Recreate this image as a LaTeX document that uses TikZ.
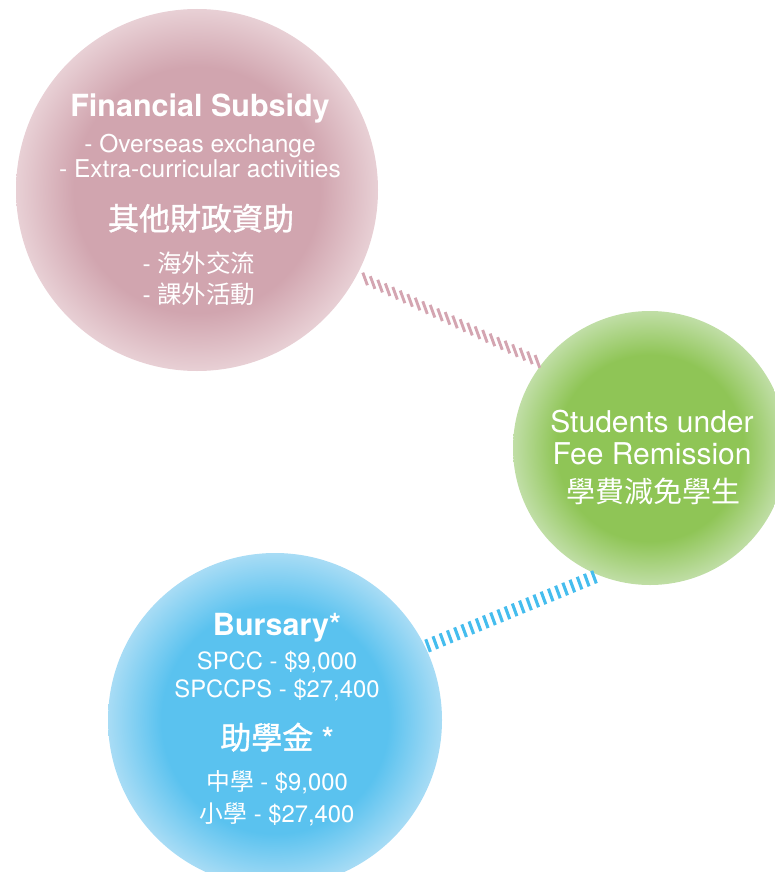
\documentclass[tikz,border=0pt]{standalone}
\usepackage{fontspec}
\setmainfont{TeX Gyre Heros}
\newfontfamily\cjk{Noto Sans CJK TC}
\newfontfamily\cjkm[FakeBold=1.2]{Noto Sans CJK TC}
\usetikzlibrary{calc}
\definecolor{pinkc}{HTML}{D1A5AF}
\definecolor{pinke}{HTML}{E8D0D5}
\definecolor{greenc}{HTML}{8FC556}
\definecolor{greene}{HTML}{C0DEA6}
\definecolor{bluec}{HTML}{5AC2EF}
\definecolor{bluee}{HTML}{A8DCF5}
\definecolor{pinkline}{HTML}{D4A5B1}
\definecolor{blueline}{HTML}{45BDEE}
\pgfdeclareradialshading{pinkshade}{\pgfpoint{0bp}{0bp}}{color(0bp)=(pinkc); color(17bp)=(pinkc); color(25bp)=(pinke); color(50bp)=(pinke)}
\pgfdeclareradialshading{greenshade}{\pgfpoint{0bp}{0bp}}{color(0bp)=(greenc); color(17bp)=(greenc); color(25bp)=(greene); color(50bp)=(greene)}
\pgfdeclareradialshading{blueshade}{\pgfpoint{0bp}{0bp}}{color(0bp)=(bluec); color(17bp)=(bluec); color(25bp)=(bluee); color(50bp)=(bluee)}
\newcommand\titlef{\fontsize{30.5}{36}\selectfont\bfseries}
\newcommand\cjktitlef{\fontsize{31}{36}\selectfont\mdseries\cjkm}
\newcommand\pbodyf{\fontsize{24.5}{29}\selectfont}
\newcommand\bbodyf{\fontsize{23.8}{28}\selectfont}
\newcommand\greenf{\fontsize{30}{35}\selectfont}
\begin{document}
\begin{tikzpicture}[x=1pt,y=-1pt,
  bub/.style={circle, inner sep=0pt, draw=none, shade},
  txt/.style={text=white, inner sep=0pt, anchor=base},
  pinktick/.style={draw=pinkline, line width=2.9pt},
  bluetick/.style={draw=blueline, line width=3.1pt}]
\useasboundingbox (0,0) rectangle (775,872);
% circles
\node[bub, minimum size=362pt, shading=pinkshade] (pink) at (197,190) {};
\node[bub, minimum size=274pt, shading=greenshade] (green) at (650,448) {};
\node[bub, minimum size=334pt, shading=blueshade] (blue) at (275,720) {};
% connectors
\coordinate (pa) at ($(pink.-28)!9pt!(green.142)$);
\coordinate (pb) at ($(green.142)!5pt!(pink.-28)$);
\foreach \i in {0,...,23}
  \draw[pinktick] ($(pa)!\i/23!(pb)$) ++(-2.3,-6.3) -- ++(4.6,12.6);
\coordinate (ba) at ($(blue.26)!3pt!(green.248)$);
\coordinate (bb) at ($(green.248)!5pt!(blue.26)$);
\foreach \i in {0,...,23}
  \draw[bluetick] ($(ba)!\i/23!(bb)$) ++(-2.3,-6.3) -- ++(4.6,12.6);
% pink texts
\node[txt, font=\titlef] (p1) at (200,117) {Financial Subsidy};
\node[txt, font=\pbodyf] (p2) at (200,152) {- Overseas exchange};
\node[txt, font=\pbodyf] (p3) at (200,177) {- Extra-curricular activities};
\node[txt, font=\cjktitlef] (p4) at (201,230) {其他財政資助};
\node[txt, font=\pbodyf] (p5) at (199,272) {- {\cjk 海外交流}};
\node[txt, font=\pbodyf] (p6) at (199,303) {- {\cjk 課外活動}};
% green texts
\node[txt, font=\greenf] (g1) at (652,432) {Students under};
\node[txt, font=\greenf] (g2) at (652,464) {Fee Remission};
\node[txt, font=\fontsize{29}{34}\selectfont\cjk] (g3) at (653,502) {學費減免學生};
% blue texts
\node[txt, font=\titlef] (b1) at (277,635) {Bursary*};
\node[txt, font=\bbodyf] (b2) at (277,669) {SPCC - \$9,000};
\node[txt, font=\bbodyf] (b3) at (277,697) {SPCCPS - \$27,400};
\node[txt, font=\titlef] (b4) at (277,749) {{\cjktitlef 助學金} *};
\node[txt, font=\bbodyf] (b5) at (277,790) {{\cjk 中學} - \$9,000};
\node[txt, font=\bbodyf] (b6) at (277,822) {{\cjk 小學} - \$27,400};
\end{tikzpicture}
\end{document}
